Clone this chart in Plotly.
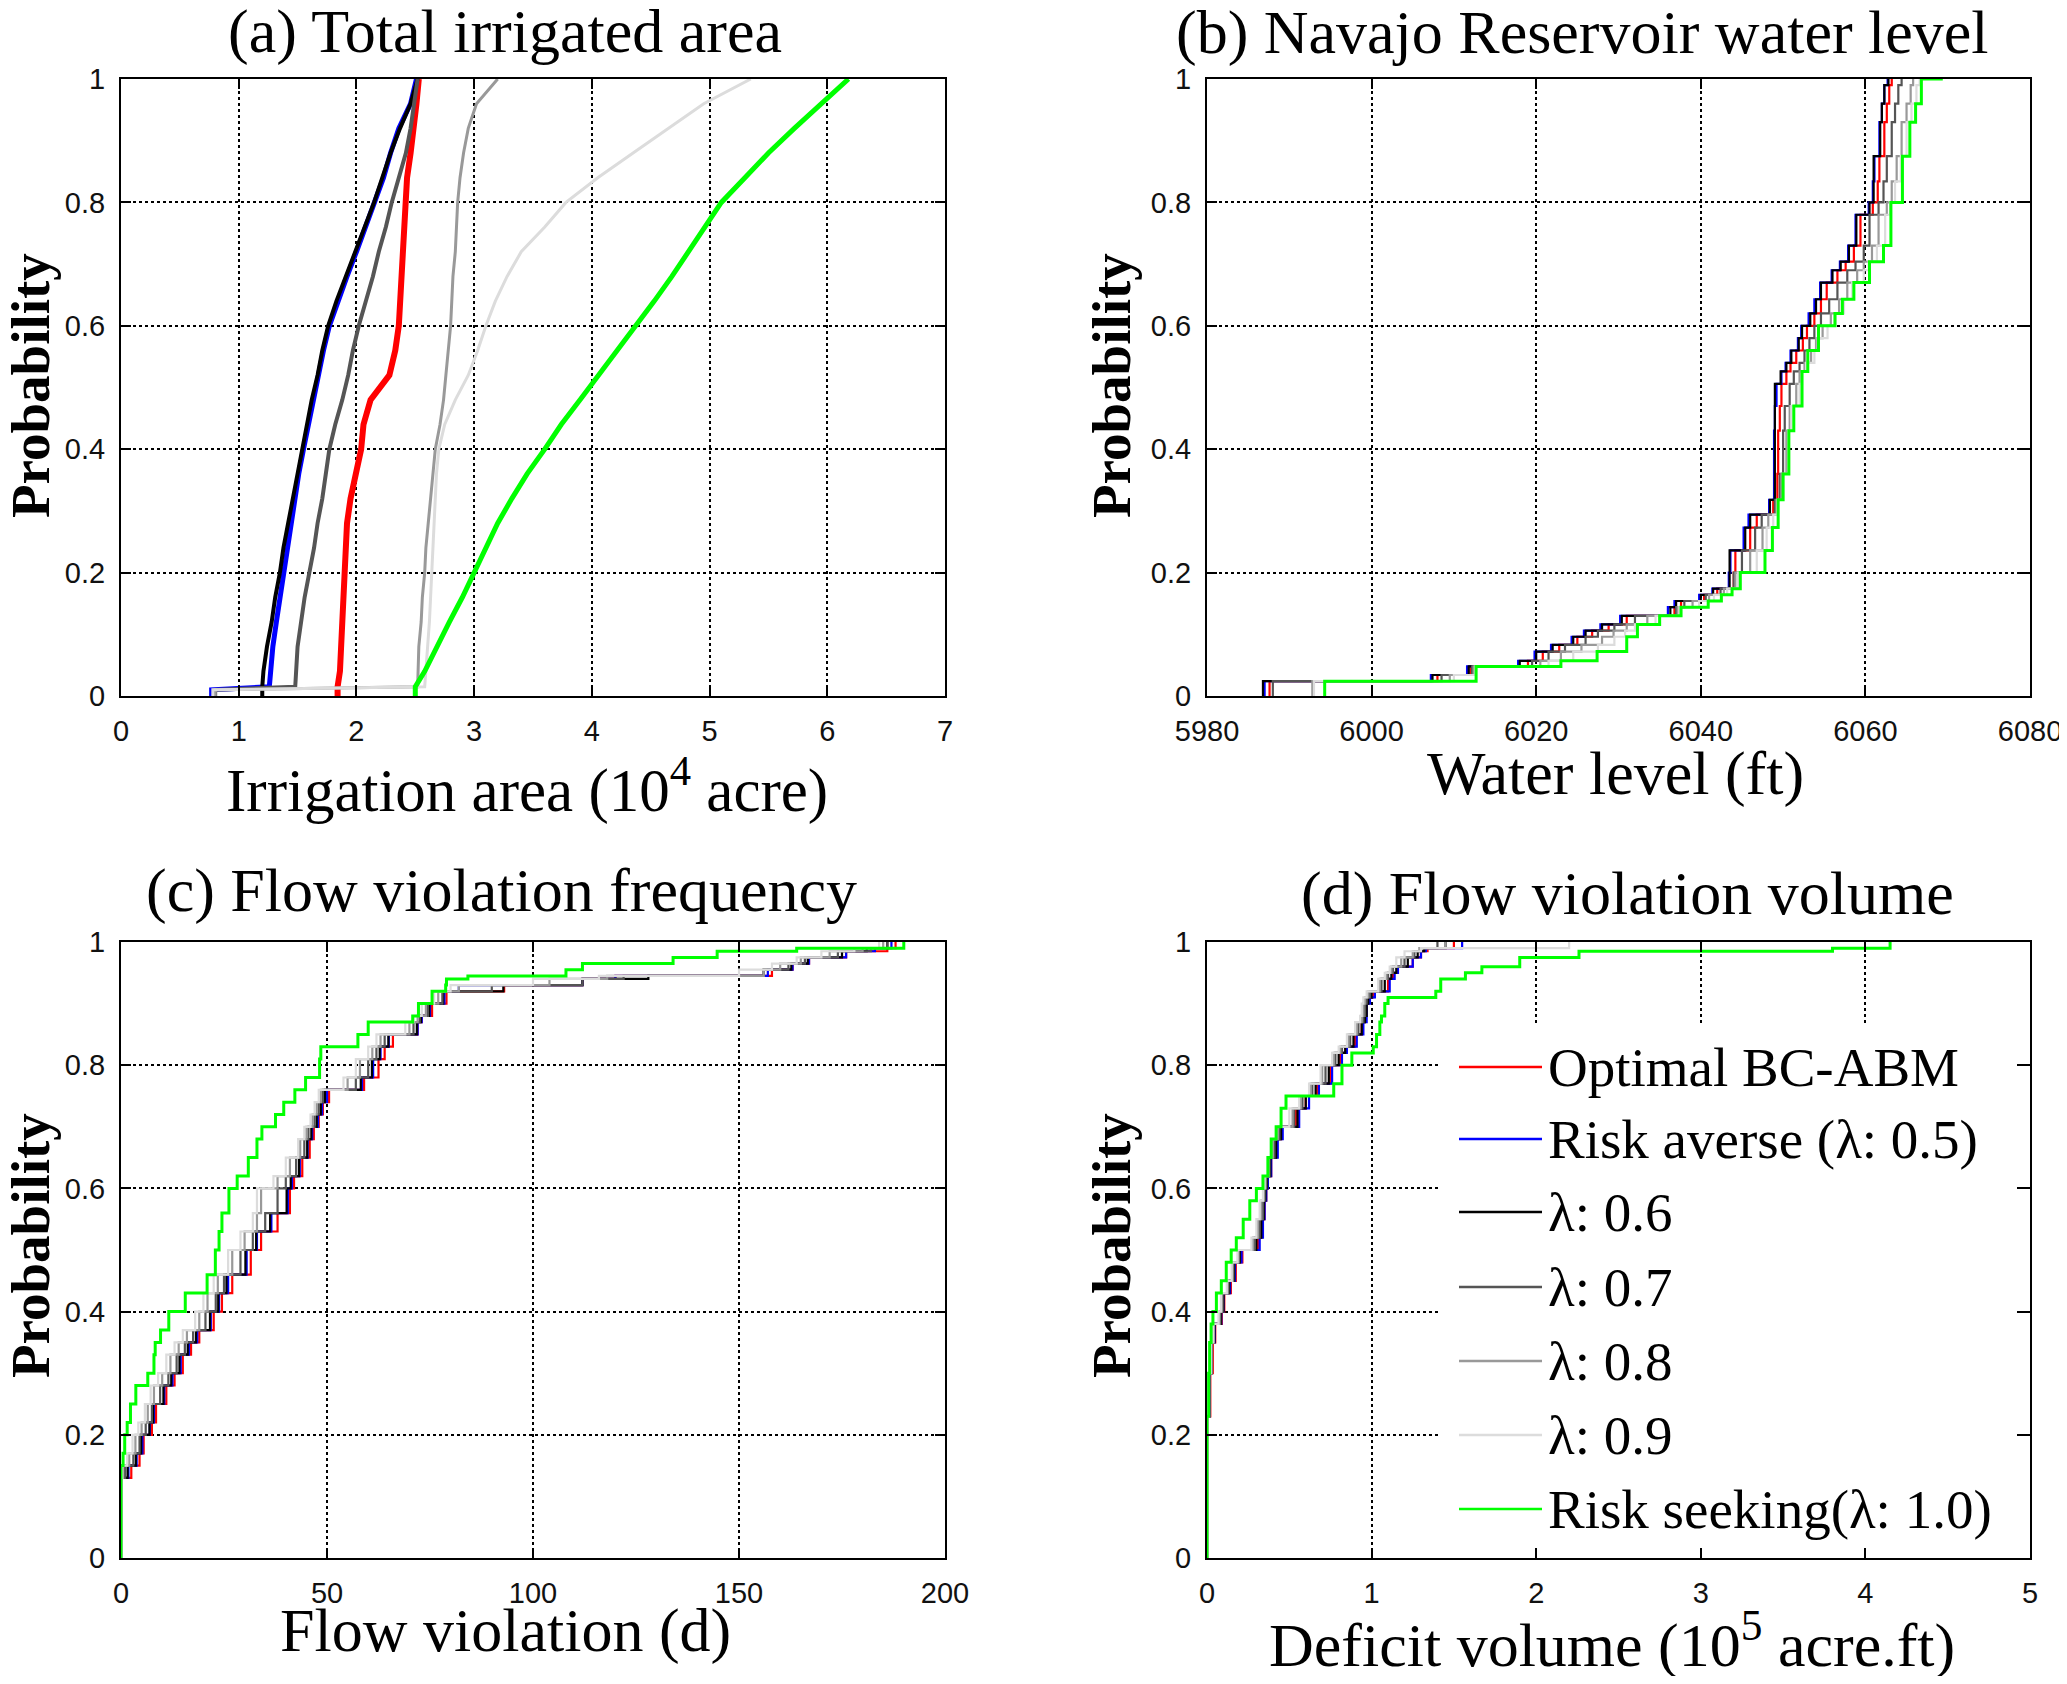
import plotly.graph_objects as go

# series names / colours (legend order)
names = ["Optimal BC-ABM", "Risk averse (λ: 0.5)", "λ: 0.6", "λ: 0.7", "λ: 0.8", "λ: 0.9", "Risk seeking(λ: 1.0)"]
colors = ["#ff0000", "#0000ff", "#000000", "#555555", "#999999", "#dcdcdc", "#00ff00"]

# (a) total irrigated area, 10^4 acre
prob_a = [0, 0.01, 0.015, 0.04, 0.08, 0.12, 0.16, 0.2, 0.24, 0.28, 0.32, 0.36, 0.4, 0.44, 0.48,
          0.52, 0.56, 0.6, 0.64, 0.68, 0.72, 0.76, 0.8, 0.84, 0.88, 0.92, 0.96, 1.0]
area_opt = [1.84, 1.84, 1.84, 1.86, 1.87, 1.88, 1.89, 1.9, 1.91, 1.92, 1.95, 2.0, 2.04, 2.06, 2.12,
            2.28, 2.33, 2.36, 2.37, 2.38, 2.39, 2.4, 2.41, 2.43, 2.46, 2.49, 2.51, 2.53]
area_05 = [0.77, 0.77, 1.26, 1.27, 1.29, 1.32, 1.35, 1.38, 1.41, 1.44, 1.48, 1.51, 1.55, 1.59, 1.63,
           1.68, 1.72, 1.77, 1.84, 1.92, 2.0, 2.08, 2.16, 2.23, 2.29, 2.36, 2.46, 2.51]
area_06 = [1.2, 1.2, 1.2, 1.21, 1.24, 1.28, 1.31, 1.35, 1.38, 1.42, 1.46, 1.5, 1.54, 1.58, 1.62,
           1.67, 1.71, 1.76, 1.83, 1.91, 1.99, 2.07, 2.15, 2.22, 2.29, 2.37, 2.46, 2.52]
area_07 = [0.8, 0.8, 1.48, 1.49, 1.5, 1.53, 1.56, 1.6, 1.64, 1.67, 1.71, 1.74, 1.77, 1.82, 1.88,
           1.93, 1.97, 2.02, 2.08, 2.14, 2.19, 2.25, 2.3, 2.36, 2.42, 2.46, 2.49, 2.52]
area_08 = [0.8, 0.8, 2.52, 2.525, 2.53, 2.55, 2.56, 2.58, 2.59, 2.61, 2.63, 2.65, 2.67, 2.71, 2.74,
           2.76, 2.78, 2.8, 2.81, 2.82, 2.84, 2.85, 2.86, 2.88, 2.91, 2.95, 3.02, 3.2]
area_09 = [0.78, 0.78, 2.58, 2.59, 2.6, 2.62, 2.63, 2.64, 2.65, 2.66, 2.67, 2.68, 2.7, 2.75, 2.84,
           2.95, 3.03, 3.1, 3.18, 3.28, 3.4, 3.6, 3.78, 4.05, 4.35, 4.65, 4.95, 5.35]
area_10 = [2.5, 2.5, 2.5, 2.58, 2.68, 2.79, 2.9, 3.0, 3.1, 3.2, 3.32, 3.45, 3.6, 3.74, 3.9,
           4.06, 4.22, 4.38, 4.53, 4.68, 4.82, 4.96, 5.1, 5.3, 5.5, 5.72, 5.95, 6.18]

# (b) Navajo reservoir water level, ft
prob_b = [0, 0.024, 0.034, 0.048, 0.057, 0.072, 0.083, 0.096, 0.106, 0.116, 0.13, 0.144, 0.154,
          0.164, 0.174, 0.2, 0.236, 0.273, 0.294, 0.318, 0.36, 0.43, 0.47, 0.506, 0.526, 0.54,
          0.56, 0.58, 0.6, 0.62, 0.643, 0.67, 0.69, 0.704, 0.73, 0.78, 0.8, 0.834, 0.875, 0.93,
          0.96, 0.99, 1.0, 1.0]
level_opt = [5987.6, 5987.6, 6008, 6012, 6019, 6020.8, 6022.8, 6025, 6026.8, 6028.8, 6031, 6036.8,
             6037.6, 6040.4, 6042, 6044, 6044.2, 6046, 6046.8, 6048.8, 6049.3, 6049.4, 6049.6,
             6049.8, 6050.4, 6050.9, 6051.6, 6052.4, 6052.9, 6053.8, 6054.6, 6055.3, 6056.6,
             6057.6, 6058.6, 6059.4, 6060.9, 6061.5, 6061.7, 6062.3, 6062.6, 6062.9, 6063.2, 6063.2]
level_05 = [5987, 5987, 6007.2, 6011.6, 6017.8, 6019.8, 6021.8, 6024.3, 6025.8, 6027.8, 6030.2, 6036,
            6036.8, 6039.8, 6041.4, 6043.4, 6043.6, 6045.2, 6045.8, 6048.3, 6048.9, 6048.9, 6049,
            6049.2, 6049.8, 6050.3, 6050.9, 6051.8, 6052.2, 6053.1, 6053.8, 6054.5, 6055.9,
            6056.9, 6057.9, 6058.8, 6060.4, 6060.9, 6061.1, 6061.7, 6062, 6062.3, 6062.7, 6062.7]
level_06 = [5986.8, 5986.8, 6007.4, 6011.8, 6018, 6020, 6022, 6024.5, 6026, 6028, 6030.4, 6036.3,
            6037, 6040, 6041.5, 6043.5, 6043.5, 6045.4, 6046, 6048.4, 6049, 6049, 6049, 6049,
            6049.7, 6050.4, 6051, 6051.9, 6052.3, 6053.3, 6054, 6054.6, 6056, 6057, 6058, 6058.9,
            6060.5, 6061, 6061, 6061.8, 6062, 6062.3, 6062.8, 6062.8]
level_07 = [5988, 5988, 6008.5, 6012.2, 6019.5, 6021.5, 6023.5, 6026, 6027.5, 6029.5, 6032, 6037,
            6038, 6040.6, 6042.4, 6044, 6045, 6046.6, 6047.4, 6049, 6049.6, 6050, 6050.2, 6050.8,
            6051.3, 6052, 6052.6, 6053.2, 6053.8, 6054.6, 6055.6, 6056.6, 6057.8, 6058.8, 6059.8,
            6060.5, 6061.6, 6062.2, 6062.6, 6063.2, 6063.6, 6064, 6064.4, 6064.4]
level_08 = [5992.8, 5992.8, 6009.5, 6012.4, 6020.5, 6023, 6025.5, 6028, 6029.4, 6031, 6033.5,
            6037.2, 6039, 6041, 6042.8, 6044.2, 6046, 6047.5, 6048.2, 6049.2, 6049.8, 6050.4,
            6050.8, 6051.6, 6052, 6052.6, 6053.4, 6054, 6054.8, 6055.8, 6056.8, 6057.8, 6059,
            6059.8, 6060.8, 6061.6, 6062.6, 6063.2, 6063.8, 6064.4, 6065, 6065.5, 6065.8, 6065.8]
level_09 = [5993, 5993, 6010, 6012.6, 6021.5, 6024.5, 6027.5, 6029.5, 6030.8, 6032, 6034.5, 6037.4,
            6039.8, 6041.6, 6043.2, 6044.5, 6046.8, 6048, 6048.8, 6049.3, 6050, 6050.6, 6051, 6052,
            6052.3, 6052.8, 6053.8, 6054.2, 6055.4, 6056.4, 6057.4, 6058.4, 6059.8, 6060.4, 6061.4,
            6062.4, 6063, 6063.6, 6064.3, 6065, 6065.6, 6066.2, 6066.6, 6068]
level_10 = [5994.3, 5994.3, 6012.7, 6012.7, 6023, 6027.4, 6031, 6031, 6032.3, 6032.3, 6035, 6037.6,
            6040.9, 6042.5, 6043.8, 6044.8, 6047.8, 6048.7, 6049.4, 6049.4, 6050, 6050.7, 6051.3,
            6052.3, 6052.3, 6053, 6053, 6054.3, 6054.3, 6056.3, 6057.2, 6058.6, 6060.5, 6060.5,
            6062.2, 6063.1, 6063.1, 6064.5, 6064.5, 6065.4, 6066.1, 6066.8, 6066.8, 6069.4]

# (c) flow violation frequency, days
prob_c = [0, 0.13, 0.15, 0.17, 0.2, 0.22, 0.25, 0.28, 0.3, 0.33, 0.35, 0.37, 0.4, 0.43, 0.46,
          0.5, 0.53, 0.56, 0.6, 0.62, 0.65, 0.68, 0.7, 0.72, 0.74, 0.76, 0.78, 0.81, 0.83, 0.85,
          0.87, 0.88, 0.9, 0.92, 0.93, 0.94, 0.945, 0.955, 0.965, 0.975, 0.985, 0.99, 1.0]
days_opt = [0, 0, 2.5, 4.5, 5.5, 7.5, 8.5, 11, 13, 15, 17, 19, 22.5, 24.5, 27, 31.5, 34, 38, 41,
            42, 44, 45.8, 46.8, 48, 49, 50.5, 59, 62.5, 64, 66, 72, 73, 75.5, 79, 93, 112, 120,
            158, 163, 167, 176, 186, 188]
days_05 = [0, 0, 1.8, 3.8, 5.2, 7, 8, 10.5, 12.5, 14.5, 16.5, 18.5, 21.8, 23.8, 26, 30.5, 33,
           36.5, 40.5, 41.5, 43.4, 45.3, 46.4, 47.8, 48.8, 50, 58.5, 61.2, 63, 65, 72, 73, 75,
           78.5, 82, 112, 120, 157, 163, 167, 176, 183, 187]
days_06 = [0, 0, 1.6, 3.6, 4.9, 6.9, 7.8, 10.3, 12.2, 14.2, 16.2, 18.2, 21.6, 23.6, 25.6, 30.2,
           32.8, 36.2, 40.2, 41.2, 43.2, 45.2, 46.2, 47.5, 48.5, 49.5, 58.2, 60.9, 62.8, 64.9,
           71.8, 72.8, 74.8, 78.2, 92.8, 112, 128, 156, 162.7, 166.7, 175, 181, 186]
days_07 = [0, 0, 1, 3, 4.5, 6, 7.5, 9.5, 11.5, 13.5, 15.5, 17.5, 20.5, 23, 25, 29, 32, 35, 38,
           40, 42.5, 44.5, 45.5, 47, 48, 49, 57, 60, 62, 64, 71, 72.5, 74.5, 78, 90, 112, 122,
           156, 162, 166, 174, 182, 186]
days_08 = [0, 0, 0.5, 2, 3.5, 5, 6.5, 8, 10, 12, 14, 16, 19, 21, 23.5, 27, 30, 33, 34, 38, 41,
           43.5, 45, 46.5, 47.5, 48.5, 55, 58, 61, 63, 70, 72, 74, 77, 82, 104, 118, 156, 160,
           165, 172, 180, 185]
days_09 = [0, 0, 0.3, 1.5, 2.8, 4.2, 5.8, 7.2, 9, 11, 13, 15, 18, 20, 22.5, 26, 29, 32, 33, 37,
           40, 43, 44.5, 46, 47, 48, 54, 57, 60, 62, 69, 71, 73, 76, 80, 100, 116, 150, 158,
           164, 170, 178, 184]
days_10 = [0, 0, 0, 0.5, 0.9, 1.5, 2.3, 3.6, 6.5, 8, 8.3, 9.6, 11.6, 15.6, 20.9, 22.9, 23.8,
           24.5, 26.2, 28.2, 30.9, 33, 34.2, 37.5, 39.5, 42.2, 44.8, 48.2, 48.5, 57.5, 60, 70.8,
           72.2, 75.5, 78.8, 79, 84.2, 108, 112, 134, 144.7, 164, 190]

# (d) flow violation volume, 10^5 acre.ft
prob_d = [0, 0.23, 0.3, 0.35, 0.38, 0.4, 0.43, 0.45, 0.48, 0.5, 0.52, 0.55, 0.58, 0.6, 0.62,
          0.65, 0.68, 0.7, 0.73, 0.75, 0.77, 0.8, 0.82, 0.83, 0.85, 0.87, 0.88, 0.9, 0.91,
          0.92, 0.94, 0.95, 0.96, 0.975, 0.985, 0.99, 1.0]
vol_opt = [0, 0, 0.02, 0.035, 0.05, 0.09, 0.105, 0.145, 0.175, 0.215, 0.31, 0.33, 0.35, 0.36,
           0.37, 0.39, 0.42, 0.45, 0.54, 0.6, 0.67, 0.75, 0.81, 0.84, 0.9, 0.94, 0.96, 0.97,
           0.98, 1.01, 1.1, 1.13, 1.16, 1.25, 1.3, 1.34, 1.5]
vol_05 = [0, 0, 0.016, 0.03, 0.046, 0.087, 0.1, 0.14, 0.17, 0.21, 0.32, 0.34, 0.35, 0.36, 0.37,
          0.39, 0.43, 0.46, 0.56, 0.62, 0.68, 0.76, 0.82, 0.85, 0.91, 0.95, 0.97, 0.97, 0.99,
          1.02, 1.11, 1.14, 1.16, 1.25, 1.3, 1.33, 1.55]
vol_06 = [0, 0, 0.015, 0.03, 0.045, 0.085, 0.1, 0.135, 0.165, 0.2, 0.3, 0.33, 0.345, 0.355,
          0.365, 0.385, 0.42, 0.45, 0.55, 0.6, 0.66, 0.74, 0.8, 0.84, 0.89, 0.94, 0.96, 0.97,
          0.98, 1.0, 1.08, 1.12, 1.15, 1.22, 1.28, 1.32, 1.45]
vol_07 = [0, 0, 0.014, 0.028, 0.042, 0.08, 0.095, 0.13, 0.16, 0.195, 0.29, 0.32, 0.34, 0.35,
          0.36, 0.38, 0.41, 0.44, 0.53, 0.58, 0.64, 0.72, 0.78, 0.82, 0.87, 0.92, 0.95, 0.96,
          0.97, 0.99, 1.06, 1.1, 1.13, 1.2, 1.26, 1.3, 1.4]
vol_08 = [0, 0, 0.013, 0.026, 0.04, 0.075, 0.09, 0.125, 0.155, 0.19, 0.28, 0.31, 0.33, 0.345,
          0.355, 0.375, 0.4, 0.43, 0.52, 0.57, 0.63, 0.7, 0.77, 0.81, 0.86, 0.91, 0.94, 0.95,
          0.96, 0.98, 1.05, 1.09, 1.12, 1.18, 1.25, 1.29, 1.45]
vol_09 = [0, 0, 0.012, 0.025, 0.038, 0.07, 0.085, 0.12, 0.15, 0.185, 0.27, 0.3, 0.32, 0.34,
          0.35, 0.37, 0.39, 0.42, 0.5, 0.56, 0.62, 0.69, 0.76, 0.8, 0.85, 0.9, 0.93, 0.94,
          0.95, 0.97, 1.04, 1.08, 1.11, 1.15, 1.2, 1.3, 2.2]
vol_10 = [0, 0, 0.01, 0.016, 0.025, 0.036, 0.057, 0.087, 0.117, 0.147, 0.178, 0.22, 0.26, 0.3,
          0.34, 0.37, 0.39, 0.42, 0.45, 0.48, 0.77, 0.82, 0.88, 1.01, 1.03, 1.05, 1.06, 1.08,
          1.1, 1.39, 1.42, 1.57, 1.67, 1.9, 2.26, 3.8, 4.15]

# the page body has an 8px margin, so keep the figure inside the window
W, H, PAD = 2059, 1668, 8


def fx(px):
    return (px - PAD) / W


def fy(py):
    return 1 - (py - PAD) / H


serif = "Liberation Serif, Times New Roman, serif"
sans = "Liberation Sans, Arial, sans-serif"

widths_a = [6, 5, 4, 4, 3, 3, 5]
panels = [
    ("x", "y", prob_a, [area_opt, area_05, area_06, area_07, area_08, area_09, area_10], widths_a, "linear"),
    ("x2", "y2", prob_b, [level_opt, level_05, level_06, level_07, level_08, level_09, level_10], [2.2] * 6 + [3], "hv"),
    ("x3", "y3", prob_c, [days_opt, days_05, days_06, days_07, days_08, days_09, days_10], [2.2] * 6 + [3], "hv"),
    ("x4", "y4", prob_d, [vol_opt, vol_05, vol_06, vol_07, vol_08, vol_09, vol_10], [2.2] * 6 + [3], "hv"),
]

fig = go.Figure()
for xa, ya, prob, series, lws, shape in panels:
    for i, xs in enumerate(series):
        fig.add_trace(go.Scatter(
            x=xs, y=prob, xaxis=xa, yaxis=ya, mode="lines", line_shape=shape,
            line=dict(color=colors[i], width=lws[i]),
            name=names[i], legendgroup=names[i], showlegend=False,
        ))

axis_common = dict(showline=True, linecolor="black", linewidth=2, mirror="ticks",
                   ticks="inside", ticklen=10, tickwidth=2, tickcolor="black",
                   showgrid=True, gridcolor="black", gridwidth=2, griddash="dot",
                   zeroline=False, automargin=False, ticklabelstandoff=8,
                   ticklabeloverflow="allow",
                   tickfont=dict(family=sans, size=29, color="#111"))

xdoms = {"left": [fx(121), fx(945)], "right": [fx(1207), fx(2030)]}
ydoms = {"top": [fy(696), fy(79)], "bot": [fy(1558), fy(942)]}
yticks = dict(tickvals=[0, 0.2, 0.4, 0.6, 0.8, 1], ticktext=["0", "0.2", "0.4", "0.6", "0.8", "1"])

fig.update_layout(
    width=W, height=H, margin=dict(l=0, r=0, t=0, b=0, autoexpand=False),
    plot_bgcolor="white", paper_bgcolor="white", showlegend=False,
    xaxis=dict(domain=xdoms["left"], anchor="y", range=[0, 7], dtick=1, **axis_common),
    yaxis=dict(domain=ydoms["top"], anchor="x", range=[0, 1], **yticks, **axis_common),
    xaxis2=dict(domain=xdoms["right"], anchor="y2", range=[5980, 6080], dtick=20, **axis_common),
    yaxis2=dict(domain=ydoms["top"], anchor="x2", range=[0, 1], **yticks, **axis_common),
    xaxis3=dict(domain=xdoms["left"], anchor="y3", range=[0, 200], dtick=50, **axis_common),
    yaxis3=dict(domain=ydoms["bot"], anchor="x3", range=[0, 1], **yticks, **axis_common),
    xaxis4=dict(domain=xdoms["right"], anchor="y4", range=[0, 5], dtick=1, **axis_common),
    yaxis4=dict(domain=ydoms["bot"], anchor="x4", range=[0, 1], **yticks, **axis_common),
)

# legend inside panel (d): white box over the grid, short line samples, labels
fig.add_shape(type="rect", xref="x4", yref="y4", x0=1.41, x1=4.92, y0=0.02, y1=0.868,
              fillcolor="white", line_width=0, layer="between")
leg_py = [1067, 1139, 1212, 1287, 1361, 1435, 1509]
for i, nm in enumerate(names):
    fig.add_shape(type="line", xref="paper", yref="paper", x0=fx(1459), x1=fx(1542),
                  y0=fy(leg_py[i]), y1=fy(leg_py[i]), line=dict(color=colors[i], width=2.5),
                  layer="above")
    fig.add_annotation(text=nm, x=fx(1546), y=fy(leg_py[i]), xref="paper", yref="paper",
                       showarrow=False, xanchor="left", yanchor="middle",
                       font=dict(family=serif, size=55, color="black"))

texts = [
    ("(a) Total irrigated area", 505, 31, 0, 62),
    ("(b) Navajo Reservoir water level", 1582, 32, 0, 62),
    ("(c) Flow violation frequency", 501, 890, 0, 62),
    ("(d) Flow violation volume", 1627, 893, 0, 62),
    ("Irrigation area (10<sup>4</sup> acre)", 527, 786, 0, 61),
    ("Water level (ft)", 1615, 773, 0, 62),
    ("Flow violation (d)", 505, 1630, 0, 62),
    ("Deficit volume (10<sup>5</sup> acre.ft)", 1612, 1640, 0, 62),
    ("<b>Probability</b>", 30, 386, -90, 55),
    ("<b>Probability</b>", 1111, 386, -90, 55),
    ("<b>Probability</b>", 30, 1246, -90, 55),
    ("<b>Probability</b>", 1111, 1246, -90, 55),
]
for txt, px, py, ang, size in texts:
    fig.add_annotation(text=txt, x=fx(px), y=fy(py), xref="paper", yref="paper", showarrow=False,
                       xanchor="center", yanchor="middle", textangle=ang,
                       font=dict(family=serif, size=size, color="black"))

fig.write_html("out.html")
